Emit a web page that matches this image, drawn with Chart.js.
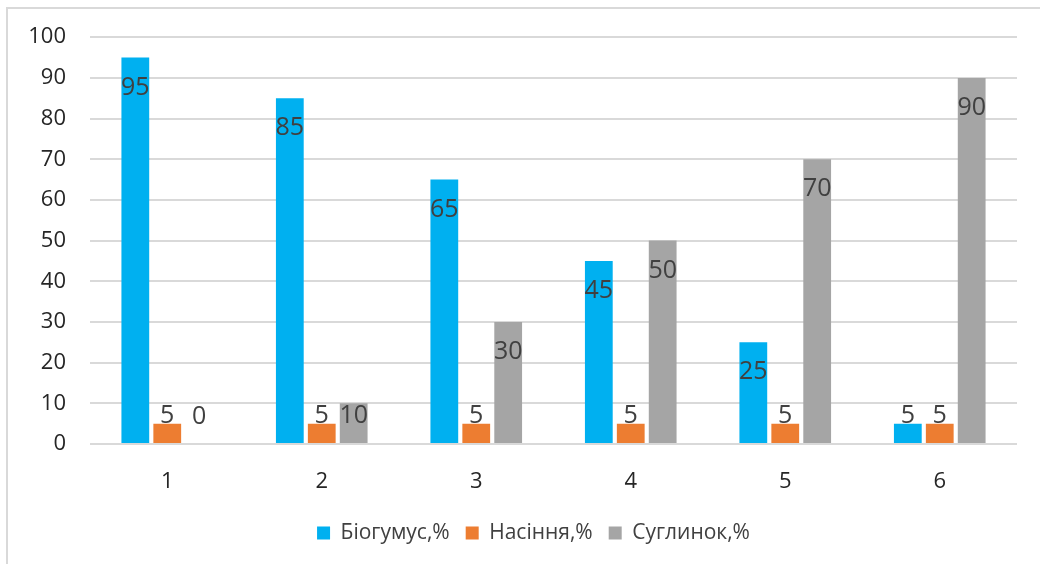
<!DOCTYPE html>
<html>
<head>
<meta charset="utf-8">
<script src="https://cdn.jsdelivr.net/npm/chart.js@4/dist/chart.umd.min.js"></script>
<style>
  html, body { margin: 0; padding: 0; background: #fff; overflow: hidden; }
  #frame {
    position: absolute; left: 6px; top: 7px;
    width: 1200px; height: 800px;
    border: 2px solid #d9d9d9; box-sizing: border-box;
  }
  #wrap { position: absolute; left: 0; top: 0; width: 1040px; height: 564px; }
</style>
</head>
<body>
<div id="frame"></div>
<div id="wrap"><canvas id="barChart" width="1040" height="564"></canvas></div>
<script>
// ── DATA ─────────────────────────────────────────────
const categories = ['1', '2', '3', '4', '5', '6'];
const biohumus   = [95, 85, 65, 45, 25, 5];
const seeds      = [5, 5, 5, 5, 5, 5];
const loam       = [0, 10, 30, 50, 70, 90];
const yTicks     = [0, 10, 20, 30, 40, 50, 60, 70, 80, 90, 100];

const FONT = 'Open Sans';

// ── DATA LABELS (Excel "inside end") ─────────────────
const valueLabels = {
  id: 'valueLabels',
  afterDatasetsDraw(chart) {
    const ctx = chart.ctx;
    ctx.save();
    ctx.font = '25px "' + FONT + '"';
    ctx.fillStyle = '#404040';
    ctx.textAlign = 'center';
    ctx.textBaseline = 'middle';
    chart.data.datasets.forEach((ds, i) => {
      chart.getDatasetMeta(i).data.forEach((bar, j) => {
        const y = Math.min(bar.y + 30, bar.base - 27);
        ctx.fillText(String(ds.data[j]), bar.x, y);
      });
    });
    ctx.restore();
  }
};

// legend sits centred on the whole frame, not the plot
const shiftLegend = {
  id: 'shiftLegend',
  afterLayout(chart) {
    chart.legend.left += 25;
    chart.legend.right += 25;
  }
};

new Chart(document.getElementById('barChart').getContext('2d'), {
  type: 'bar',
  data: {
    labels: categories,
    datasets: [
      { label: 'Біогумус,%', data: biohumus, backgroundColor: '#00b0f0' },
      { label: 'Насіння,%',  data: seeds,    backgroundColor: '#ed7d31' },
      { label: 'Суглинок,%', data: loam,     backgroundColor: '#a5a5a5' }
    ]
  },
  options: {
    responsive: false,
    animation: false,
    devicePixelRatio: 1,
    layout: { padding: { top: 37, right: 23, bottom: 10.5, left: 0 } },
    datasets: { bar: { categoryPercentage: 0.62, barPercentage: 0.87 } },
    plugins: {
      tooltip: { enabled: false },
      legend: {
        position: 'bottom',
        labels: {
          font: { family: FONT, size: 21 },
          color: '#404040',
          boxWidth: 13,
          boxHeight: 13,
          padding: 16
        }
      }
    },
    scales: {
      x: {
        grid: { display: false },
        border: { display: false },
        ticks: { font: { family: FONT, size: 22 }, color: '#262626', padding: 17 },
        afterFit(scale) { scale.height = 62.5; }
      },
      y: {
        min: 0, max: 100,
        afterBuildTicks(scale) { scale.ticks = yTicks.map(v => ({ value: v })); },
        grid: { color: '#d9d9d9', lineWidth: 2, drawTicks: false },
        border: { display: false },
        ticks: { font: { family: FONT, size: 22 }, color: '#262626', padding: 24 },
        afterFit(scale) { scale.width = 90; }
      }
    }
  },
  plugins: [valueLabels, shiftLegend]
});
</script>
</body>
</html>
